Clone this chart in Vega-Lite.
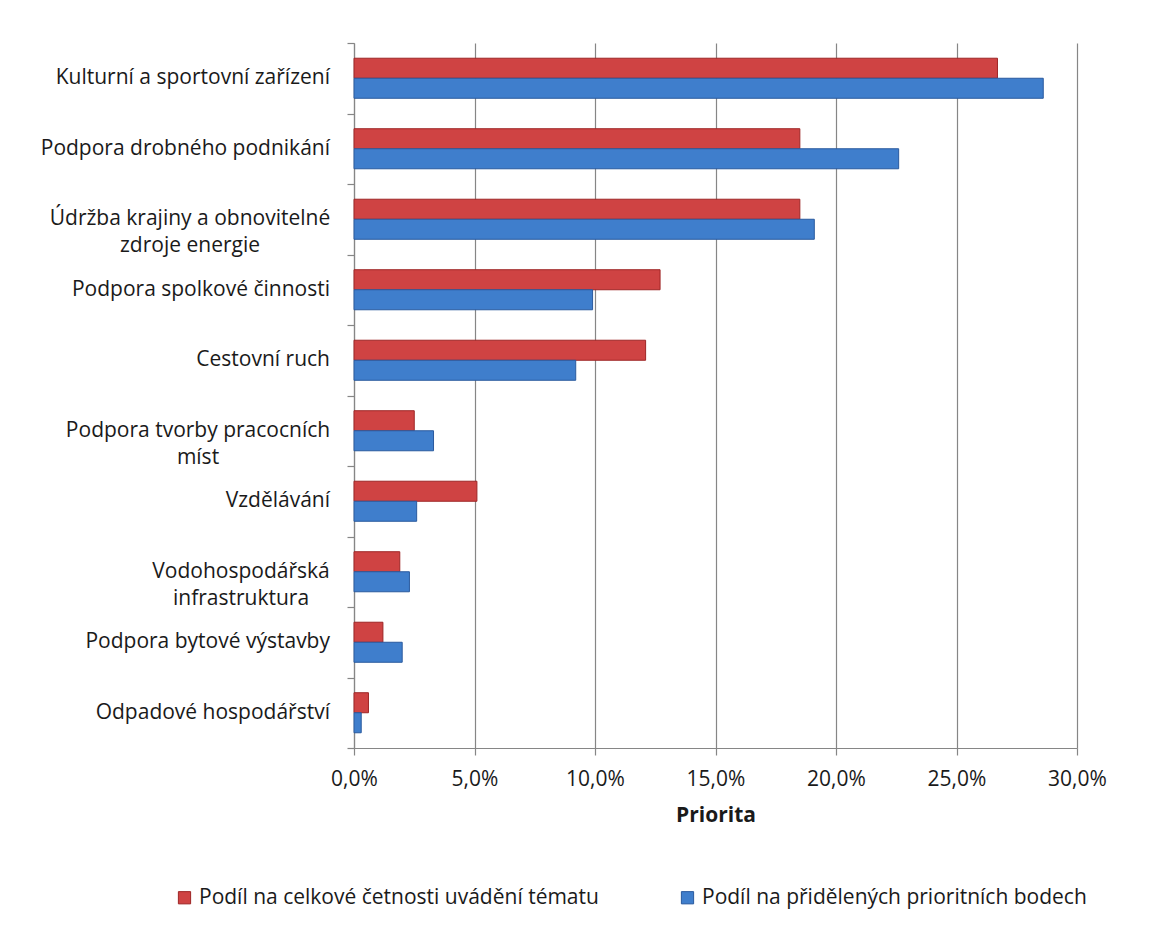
{
  "$schema": "https://vega.github.io/schema/vega-lite/v6.json",
  "width": 723,
  "height": 705,
  "autosize": "none",
  "padding": {"left": 354, "top": 43, "right": 93, "bottom": 199},
  "background": "white",
  "config": {"view": {"stroke": null}, "font": "Open Sans", "text": {"font": "Open Sans"}},
  "data": {"values": [
    {"category": "Kulturní a sportovní zařízení", "series": "Podíl na celkové četnosti uvádění tématu", "value": 0.267},
    {"category": "Kulturní a sportovní zařízení", "series": "Podíl na přidělených prioritních bodech", "value": 0.286},
    {"category": "Podpora drobného podnikání", "series": "Podíl na celkové četnosti uvádění tématu", "value": 0.185},
    {"category": "Podpora drobného podnikání", "series": "Podíl na přidělených prioritních bodech", "value": 0.226},
    {"category": "Údržba krajiny a obnovitelné\nzdroje energie", "series": "Podíl na celkové četnosti uvádění tématu", "value": 0.185},
    {"category": "Údržba krajiny a obnovitelné\nzdroje energie", "series": "Podíl na přidělených prioritních bodech", "value": 0.191},
    {"category": "Podpora spolkové činnosti", "series": "Podíl na celkové četnosti uvádění tématu", "value": 0.127},
    {"category": "Podpora spolkové činnosti", "series": "Podíl na přidělených prioritních bodech", "value": 0.099},
    {"category": "Cestovní ruch", "series": "Podíl na celkové četnosti uvádění tématu", "value": 0.121},
    {"category": "Cestovní ruch", "series": "Podíl na přidělených prioritních bodech", "value": 0.092},
    {"category": "Podpora tvorby pracocních\nmíst", "series": "Podíl na celkové četnosti uvádění tématu", "value": 0.025},
    {"category": "Podpora tvorby pracocních\nmíst", "series": "Podíl na přidělených prioritních bodech", "value": 0.033},
    {"category": "Vzdělávání", "series": "Podíl na celkové četnosti uvádění tématu", "value": 0.051},
    {"category": "Vzdělávání", "series": "Podíl na přidělených prioritních bodech", "value": 0.026},
    {"category": "Vodohospodářská\ninfrastruktura", "series": "Podíl na celkové četnosti uvádění tématu", "value": 0.019},
    {"category": "Vodohospodářská\ninfrastruktura", "series": "Podíl na přidělených prioritních bodech", "value": 0.023},
    {"category": "Podpora bytové výstavby", "series": "Podíl na celkové četnosti uvádění tématu", "value": 0.012},
    {"category": "Podpora bytové výstavby", "series": "Podíl na přidělených prioritních bodech", "value": 0.020},
    {"category": "Odpadové hospodářství", "series": "Podíl na celkové četnosti uvádění tématu", "value": 0.006},
    {"category": "Odpadové hospodářství", "series": "Podíl na přidělených prioritních bodech", "value": 0.003}
  ]},
  "encoding": {
    "y": {
      "field": "category", "type": "nominal",
      "sort": ["Kulturní a sportovní zařízení", "Podpora drobného podnikání", "Údržba krajiny a obnovitelné\nzdroje energie", "Podpora spolkové činnosti", "Cestovní ruch", "Podpora tvorby pracocních\nmíst", "Vzdělávání", "Vodohospodářská\ninfrastruktura", "Podpora bytové výstavby", "Odpadové hospodářství"],
      "scale": {"paddingInner": 0, "paddingOuter": 0},
      "axis": {"labels": false, "title": null, "tickBand": "extent", "domainColor": "#868686", "tickColor": "#868686", "tickSize": 7, "domainWidth": 1.2, "tickWidth": 1.2}
    }
  },
  "layer": [
    {
      "mark": {"type": "bar", "strokeWidth": 1},
      "encoding": {
        "yOffset": {"field": "series", "type": "nominal", "sort": ["Podíl na celkové četnosti uvádění tématu", "Podíl na přidělených prioritních bodech"], "scale": {"paddingInner": 0, "paddingOuter": 0.76}},
        "x": {
          "field": "value", "type": "quantitative",
          "scale": {"domain": [0, 0.3]},
          "axis": {
            "values": [0, 0.05, 0.1, 0.15, 0.2, 0.25, 0.3],
            "labelExpr": "replace(format(datum.value, '.1%'), '.', ',')",
            "labelFlush": false,
            "grid": true, "gridColor": "#868686", "gridWidth": 1.2,
            "domainColor": "#868686", "domainWidth": 1.2, "tickColor": "#868686", "tickWidth": 1.2, "tickSize": 7,
            "labelFontSize": 21, "labelColor": "#1a1a1a", "labelPadding": 13, "labelFont": "Open Sans",
            "title": "Priorita", "titleFontSize": 21, "titleFontWeight": "bold", "titleColor": "#1a1a1a", "titlePadding": 15, "titleFont": "Open Sans"
          }
        },
        "fill": {
          "field": "series", "type": "nominal",
          "scale": {"domain": ["Podíl na celkové četnosti uvádění tématu", "Podíl na přidělených prioritních bodech"], "range": ["#CF4343", "#3F7ECC"]},
          "legend": {
            "orient": "none", "legendX": -180, "legendY": 844, "direction": "horizontal", "title": null,
            "symbolType": "square", "symbolSize": 150, "symbolStrokeWidth": 1,
            "labelFontSize": 21, "labelFont": "Open Sans", "labelColor": "#1a1a1a", "labelOffset": 4, "columnPadding": 78, "labelLimit": 500
          }
        },
        "stroke": {
          "field": "series", "type": "nominal",
          "scale": {"domain": ["Podíl na celkové četnosti uvádění tématu", "Podíl na přidělených prioritních bodech"], "range": ["#9E2626", "#2A5A9E"]},
          "legend": {
            "orient": "none", "legendX": -180, "legendY": 844, "direction": "horizontal", "title": null,
            "symbolType": "square", "symbolSize": 150, "symbolStrokeWidth": 1,
            "labelFontSize": 21, "labelFont": "Open Sans", "labelColor": "#1a1a1a", "labelOffset": 4, "columnPadding": 78, "labelLimit": 500
          }
        }
      }
    },
    {
      "transform": [{"filter": "datum.series == 'Podíl na celkové četnosti uvádění tématu' && indexof(datum.category, '\\n') < 0"}],
      "mark": {"type": "text", "align": "right", "baseline": "middle", "dx": -24, "fontSize": 21, "color": "#1a1a1a", "font": "Open Sans"},
      "encoding": {"x": {"datum": 0, "type": "quantitative"}, "text": {"field": "category"}}
    },
    {
      "transform": [{"filter": "datum.series == 'Podíl na celkové četnosti uvádění tématu' && indexof(datum.category, 'Údržba') == 0"}],
      "mark": {"type": "text", "align": "center", "baseline": "middle", "dx": -164, "fontSize": 21, "lineBreak": "\n", "lineHeight": 27, "color": "#1a1a1a", "font": "Open Sans"},
      "encoding": {"x": {"datum": 0, "type": "quantitative"}, "text": {"field": "category"}}
    },
    {
      "transform": [{"filter": "datum.series == 'Podíl na celkové četnosti uvádění tématu' && indexof(datum.category, 'Podpora tvorby') == 0"}],
      "mark": {"type": "text", "align": "center", "baseline": "middle", "dx": -156, "fontSize": 21, "lineBreak": "\n", "lineHeight": 27, "color": "#1a1a1a", "font": "Open Sans"},
      "encoding": {"x": {"datum": 0, "type": "quantitative"}, "text": {"field": "category"}}
    },
    {
      "transform": [{"filter": "datum.series == 'Podíl na celkové četnosti uvádění tématu' && indexof(datum.category, 'Vodohospodářská') == 0"}],
      "mark": {"type": "text", "align": "center", "baseline": "middle", "dx": -113, "fontSize": 21, "lineBreak": "\n", "lineHeight": 27, "color": "#1a1a1a", "font": "Open Sans"},
      "encoding": {"x": {"datum": 0, "type": "quantitative"}, "text": {"field": "category"}}
    }
  ]
}
